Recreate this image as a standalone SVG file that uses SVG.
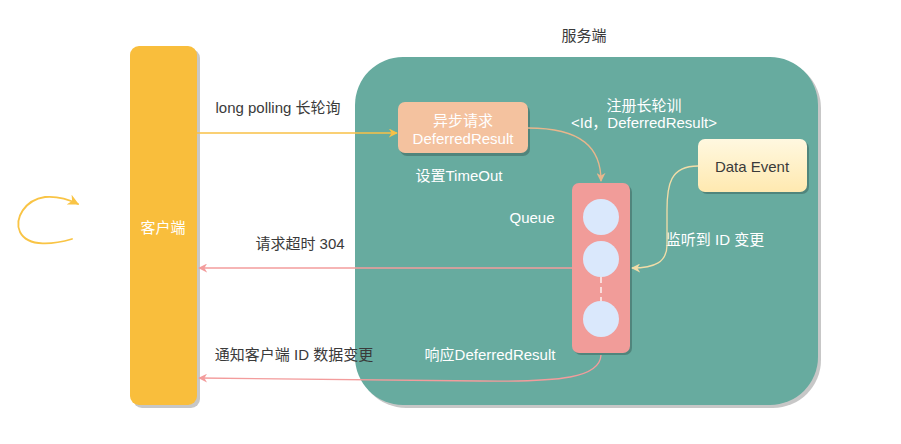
<svg xmlns="http://www.w3.org/2000/svg" width="901" height="444" viewBox="0 0 901 444">
<defs>
<style>
.t{font-family:"Liberation Sans","Noto Sans CJK SC",sans-serif;font-size:15px;text-anchor:middle;dominant-baseline:central}
.w{fill:#ffffff}
.g{fill:#3a3a3a}
.sh{fill:#000;opacity:0.22}
.c{fill:none;stroke-width:1.3}
</style>
<linearGradient id="yg" x1="0" y1="0" x2="0" y2="1">
<stop offset="0" stop-color="#FFF8E0"/>
<stop offset="1" stop-color="#FFE9B0"/>
</linearGradient>
<marker id="ay" viewBox="0 0 10 10" refX="9" refY="5" markerWidth="9" markerHeight="9" orient="auto" markerUnits="userSpaceOnUse"><path d="M0,0 L10,5 L0,10 L3,5 z" fill="#F8C146"/></marker>
<marker id="ay2" viewBox="0 0 10 10" refX="9" refY="5" markerWidth="11" markerHeight="11" orient="auto" markerUnits="userSpaceOnUse"><path d="M0,0 L10,5 L0,10 L3,5 z" fill="#F9C445"/></marker>
<marker id="ap" viewBox="0 0 10 10" refX="9" refY="5" markerWidth="9" markerHeight="9" orient="auto" markerUnits="userSpaceOnUse"><path d="M0,0 L10,5 L0,10 L3,5 z" fill="#F39C9C"/></marker>
<marker id="ao" viewBox="0 0 10 10" refX="9" refY="5" markerWidth="9" markerHeight="9" orient="auto" markerUnits="userSpaceOnUse"><path d="M0,0 L10,5 L0,10 L3,5 z" fill="#E8B68C"/></marker>
<marker id="ac" viewBox="0 0 10 10" refX="9" refY="5" markerWidth="9" markerHeight="9" orient="auto" markerUnits="userSpaceOnUse"><path d="M0,0 L10,5 L0,10 L3,5 z" fill="#F2DDA8"/></marker>
</defs>
<rect width="901" height="444" fill="#ffffff"/>

<g id="server">
<rect class="sh" x="358" y="60" width="463" height="348" rx="48"/>
<rect x="355" y="57" width="463" height="348" rx="48" fill="#67AB9F"/>
<text class="t g" x="584" y="35">服务端</text>
</g>

<g id="client">
<rect class="sh" x="133" y="49" width="67" height="359" rx="9"/>
<rect x="130" y="46" width="67" height="359" rx="9" fill="#F9BE3C"/>
<text class="t w" x="163" y="227">客户端</text>
</g>

<g id="async-request">
<rect class="sh" x="400" y="105" width="130" height="51" rx="7"/>
<rect x="398" y="102" width="130" height="51" rx="7" fill="#F4C29F"/>
<text class="t w" x="463" y="120">异步请求</text>
<text class="t w" x="463" y="138">DeferredResult</text>
</g>

<g id="data-event">
<rect class="sh" x="700" y="141" width="109" height="53" rx="7"/>
<rect x="698" y="139" width="109" height="53" rx="7" fill="url(#yg)"/>
<text class="t g" x="752" y="166">Data Event</text>
</g>

<g id="queue">
<rect class="sh" x="574" y="185" width="58" height="170" rx="7"/>
<rect x="572" y="183" width="58" height="170" rx="7" fill="#F19C99"/>
<circle cx="601" cy="217" r="18" fill="#DAE8FC"/>
<circle cx="601" cy="259" r="18" fill="#DAE8FC"/>
<circle cx="601" cy="319" r="18" fill="#DAE8FC"/>
<line x1="601" y1="277" x2="601" y2="301" stroke="#ffffff" stroke-width="1.3" stroke-dasharray="6 4"/>
</g>

<g id="labels">
<text class="t w" x="459" y="175">设置TimeOut</text>
<text class="t w" x="644" y="105">注册长轮训</text>
<text class="t w" x="644" y="122">&lt;Id，DeferredResult&gt;</text>
<text class="t w" x="532" y="217">Queue</text>
<text class="t w" x="715" y="239">监听到 ID 变更</text>
<text class="t g" x="278" y="107">long polling 长轮询</text>
<text class="t g" x="300" y="243">请求超时 304</text>
<text class="t g" x="294" y="354">通知客户端 ID 数据变更</text>
<text class="t w" x="490" y="354">响应DeferredResult</text>
</g>

<g id="connectors">
<line class="c" x1="197" y1="133" x2="397" y2="133" stroke="#F8C146" marker-end="url(#ay)"/>
<path class="c" d="M528,128 C582,128 601,148 601,181" stroke="#E8B68C" marker-end="url(#ao)"/>
<path class="c" d="M698,166 C670,166 667,185 667,210 L667,245 C667,262 655,268 632,268" stroke="#F2DDA8" marker-end="url(#ac)"/>
<line class="c" x1="572" y1="268" x2="199" y2="268" stroke="#F39C9C" marker-end="url(#ap)"/>
<path class="c" d="M601,355 C600,378 560,382 480,381 L199,378" stroke="#F39C9C" marker-end="url(#ap)"/>
<path d="M72,239 C55,244 28,248 20,232 C14,218 25,200 45,197 C57,196 68,199 78,204" fill="none" stroke="#F9C445" stroke-width="1.8" stroke-linecap="round" marker-end="url(#ay2)"/>
</g>
</svg>
